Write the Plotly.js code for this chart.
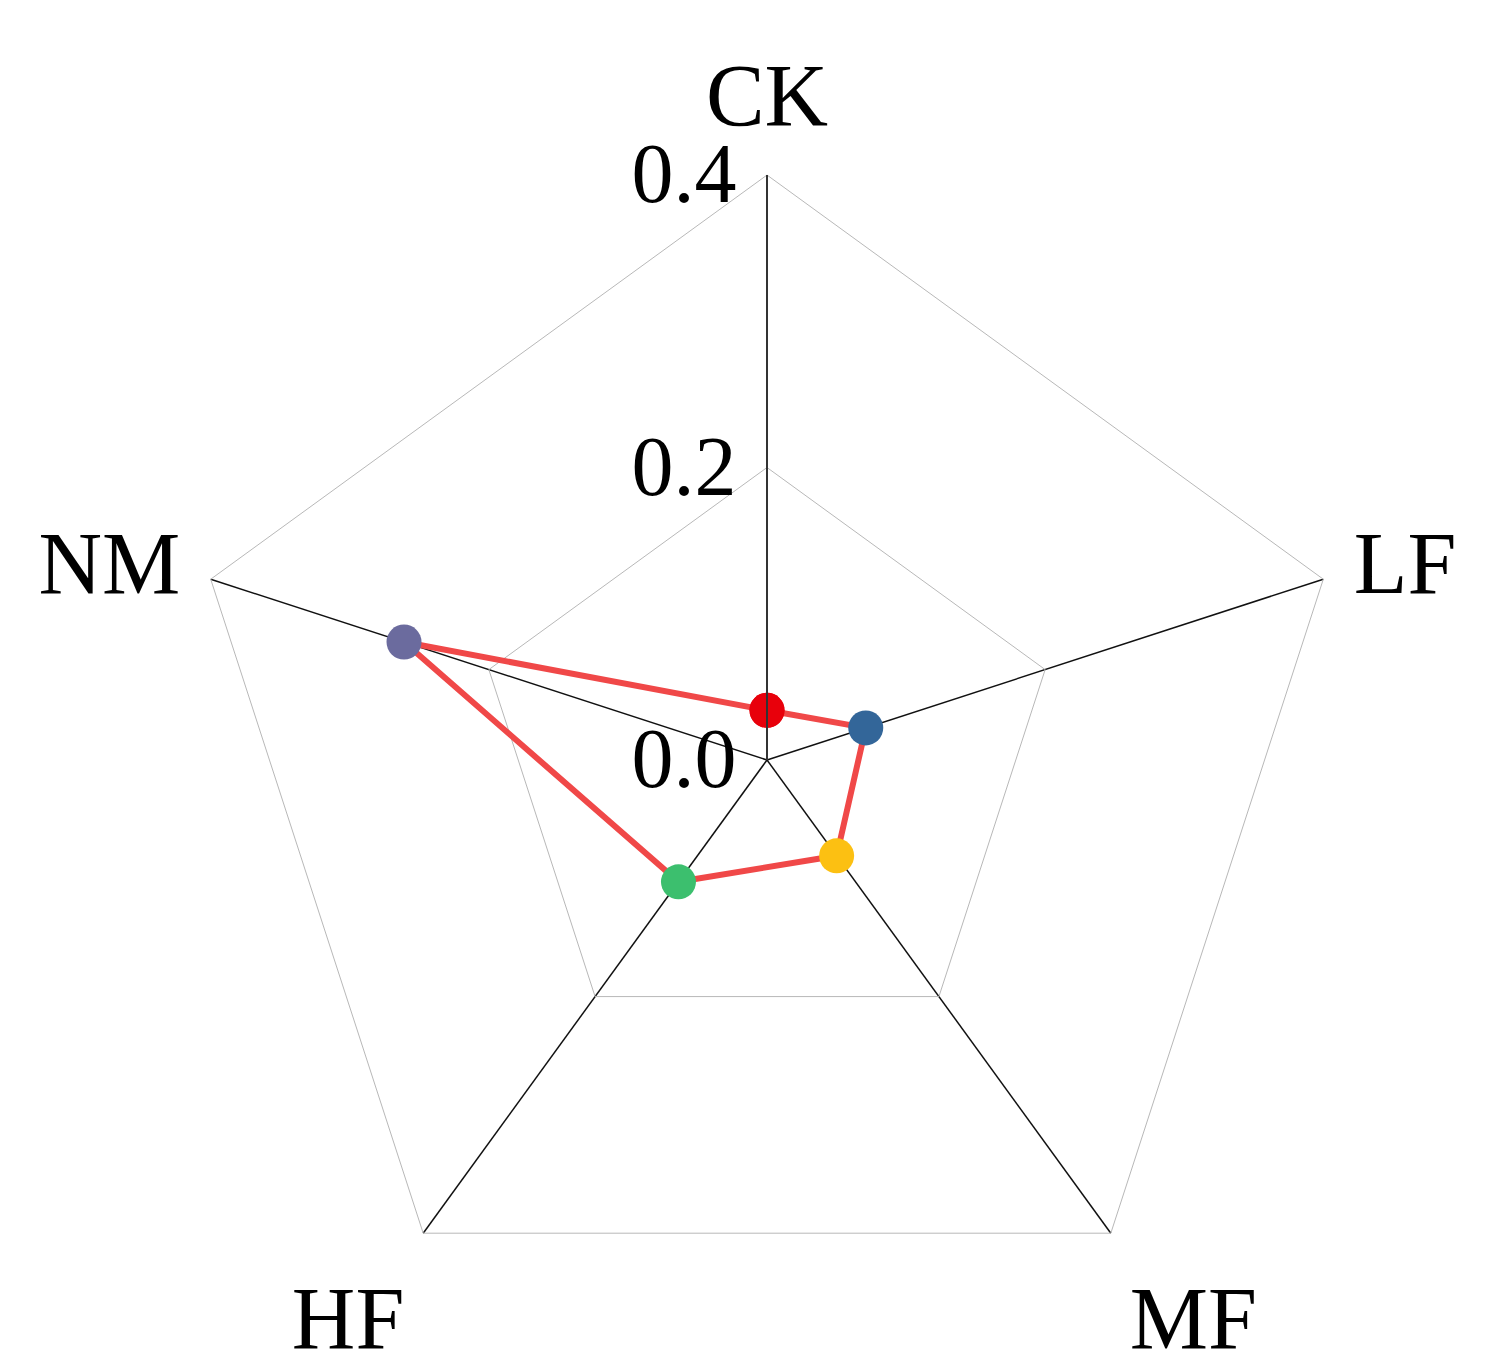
<!DOCTYPE html>
<html>
<head>
<meta charset="utf-8">
<script src="https://cdn.plot.ly/plotly-3.0.1.min.js"></script>
<style>html,body{margin:0;padding:0;background:#fff;}#chart{width:1506px;height:1371px;}</style>
</head>
<body>
<div id="chart"></div>
<script>
const categories = ["CK", "LF", "MF", "HF", "NM"];
const values = [0.034, 0.071, 0.081, 0.103, 0.261];
const pointColors = ["#e8000b", "#336699", "#fcc012", "#3cbf6e", "#6b6b9e"];
const radialTicks = [0, 0.2, 0.4];
const radialTickText = ["0.0", "0.2", "0.4"];

const serif = "Liberation Serif, Times New Roman, serif";

const trace = {
  type: "scatterpolar",
  r: values.concat([values[0]]),
  theta: categories.concat([categories[0]]),
  mode: "lines+markers",
  line: {color: "#f04848", width: 6},
  marker: {size: 35, color: pointColors.concat([pointColors[0]]), line: {width: 0}},
  hoverinfo: "none",
  showlegend: false
};

const layout = {
  width: 1506, height: 1371,
  margin: {l: 0, r: 0, t: 0, b: 0},
  paper_bgcolor: "#fff",
  showlegend: false,
  polar: {
    domain: {x: [0.1209, 0.8977], y: [0.01896, 0.8724]},
    gridshape: "linear",
    bgcolor: "rgba(0,0,0,0)",
    angularaxis: {
      type: "category",
      categoryarray: categories,
      rotation: 90,
      direction: "clockwise",
      showline: true,
      linecolor: "#b8b8b8",
      linewidth: 1,
      showgrid: true,
      gridcolor: "#111",
      gridwidth: 1.5,
      ticks: "outside",
      ticklen: 14,
      tickcolor: "rgba(0,0,0,0)",
      tickfont: {family: serif, size: 88, color: "#000"}
    },
    radialaxis: {
      range: [0, 0.4],
      angle: 90,
      tickangle: 90,
      side: "counterclockwise",
      tickvals: radialTicks,
      ticktext: radialTickText,
      showline: true,
      linecolor: "#333",
      linewidth: 2,
      showgrid: true,
      gridcolor: "#b8b8b8",
      gridwidth: 1,
      ticks: "",
      tickfont: {family: serif, size: 84, color: "#000"}
    }
  }
};

Plotly.newPlot("chart", [trace], layout, {displayModeBar: false, staticPlot: true});
</script>
</body>
</html>
